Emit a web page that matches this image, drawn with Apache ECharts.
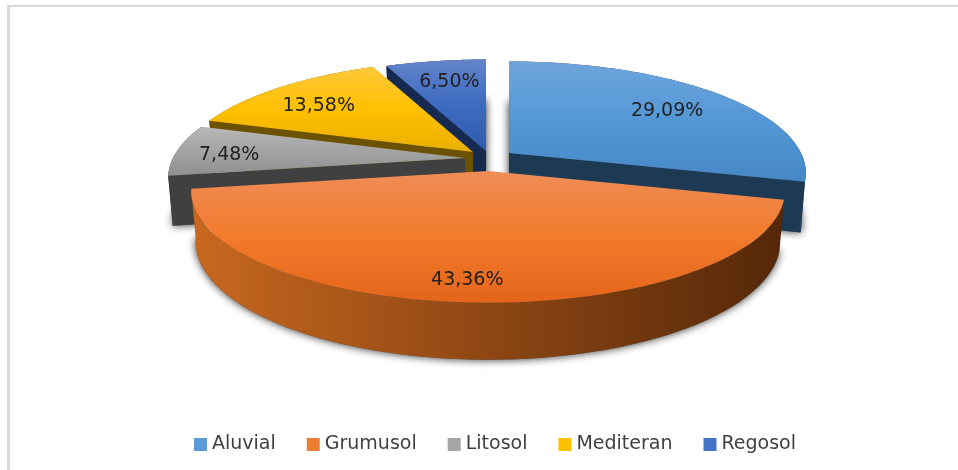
<!DOCTYPE html>
<html><head><meta charset="utf-8">
<style>html,body{margin:0;padding:0;background:#fff}#c{width:958px;height:470px}</style>
<script src="https://cdn.jsdelivr.net/npm/echarts@6/dist/echarts.min.js"></script>
</head><body><div id="c"></div>
<script>
const categories = ['Aluvial','Grumusol','Litosol','Mediteran','Regosol'];
const shares = [29.09,43.36,7.48,13.58,6.50];
const shareLabels = ['29,09%','43,36%','7,48%','13,58%','6,50%'];

// layout / style only
const apex = [[509,153],[488,171],[465,158],[473,152],[486,151]];
const labelNudge = [[-8,5],[-8,11],[-11,3],[0,6],[4,4]];
const zOrder = [4,5,3,2,1];
const legendColors = ['#5B9BD5','#ED7D31','#A5A5A5','#FFC000','#4472C4'];
const topStops = [
  ['#6FA5DB','#5297D6','#4788C6'],
  ['#EF8D57','#F27A2B','#E4651A'],
  ['#B8B8B8','#A3A3A3','#8F8F8F'],
  ['#FFC93C','#FFC000','#E8AF00'],
  ['#6484CA','#3D6BC2','#2F5BAD']];
const faceColors = ['#1D3A55','#5A2B0A','#404040','#6B5200','#16294F'];
const RX=292, RY=108, K=0.18, LABEL_F=0.78;
const rad=d=>d*Math.PI/180;

function project(ap,t,f){
  const u=Math.sin(t)*f, v=Math.cos(t)*f, s=1/(1+K*v);
  return [ap[0]+RX*u*s, ap[1]-RY*v*s];
}
function lower(ap,p,v){
  return [ap[0]+(p[0]-ap[0])*0.985, p[1]+48.5-8.5*v];
}
function grad(dir,stops){
  return {type:'linear',x:0,y:0,x2:dir?1:0,y2:dir?0:1,global:false,
    colorStops:stops.map((c,i)=>({offset:i/(stops.length-1),color:c}))};
}
const total=shares.reduce((a,b)=>a+b,0);
const starts=[];shares.reduce((a,b,i)=>{starts[i]=a;return a+b;},0);

function render(i){
  return function(params,api){
    const ap=apex[i];
    const t0=rad(starts[i]/total*360), t1=rad((starts[i]+api.value(0))/total*360);
    const N=64, top=[], bot=[];
    for(let n=0;n<=N;n++){
      const t=t0+(t1-t0)*n/N;
      const p=project(ap,t,1);
      top.push(p); bot.push(lower(ap,p,Math.cos(t)));
    }
    const apB=lower(ap,ap,0);
    const children=[];
    // soft shadow below body
    children.push({type:'polygon',shape:{points:[apB].concat(bot)},
      style:{fill:'#555',shadowBlur:9,shadowColor:'rgba(0,0,0,0.85)'}});
    // outer wall
    children.push({type:'polygon',shape:{points:top.concat(bot.slice().reverse())},
      style:i===1?{fill:grad(1,['#C8681F','#8E4714','#552809'])}:{fill:faceColors[i]}});
    // radial cut faces facing the viewer
    if(Math.sin(t0)<-1e-6) children.push({type:'polygon',shape:{points:[ap,top[0],bot[0],apB]},style:{fill:faceColors[i]}});
    if(Math.sin(t1)>1e-6) children.push({type:'polygon',shape:{points:[ap,top[N],bot[N],apB]},style:{fill:faceColors[i]}});
    // top surface
    children.push({type:'polygon',shape:{points:[ap].concat(top)},style:{fill:grad(0,topStops[i])}});
    const m=(t0+t1)/2, lp=project(ap,m,LABEL_F);
    children.push({type:'text',style:{text:shareLabels[i],x:lp[0]+labelNudge[i][0],y:lp[1]+labelNudge[i][1],
      fill:'#222',font:'19px "DejaVu Sans"',align:'center',verticalAlign:'middle'}});
    return {type:'group',children};
  };
}

const chart=echarts.init(document.getElementById('c'),null,{renderer:'canvas'});
chart.setOption({
  animation:false,
  backgroundColor:'#fff',
  graphic:[
    {type:'rect',shape:{x:7,y:5,width:951,height:2},style:{fill:'#D9D9D9'},silent:true},
    {type:'rect',shape:{x:7,y:5,width:3,height:465},style:{fill:'#D9D9D9'},silent:true}
  ],
  legend:{data:categories,left:189,top:430,icon:'rect',itemWidth:13,itemHeight:13,itemGap:31,
    selectedMode:false,textStyle:{fontFamily:'DejaVu Sans',fontSize:19,color:'#404040'}},
  series:categories.map((name,i)=>({
    type:'custom',name,coordinateSystem:'none',z:zOrder[i],silent:true,
    itemStyle:{color:legendColors[i]},
    data:[[shares[i]]],
    encode:{value:0},
    renderItem:render(i)
  }))
});
</script></body></html>
